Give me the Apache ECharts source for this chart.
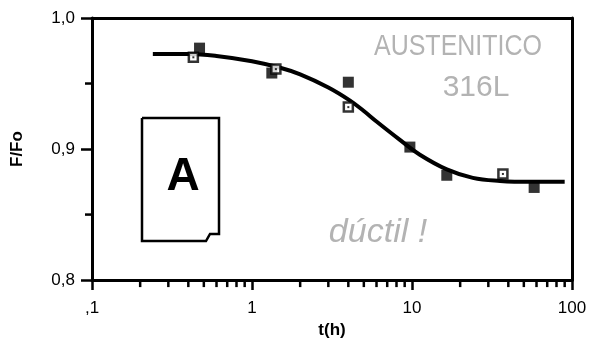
<!DOCTYPE html>
<html><head><meta charset="utf-8">
<script src="https://cdn.jsdelivr.net/npm/echarts@6/dist/echarts.min.js"></script>
<style>html,body{margin:0;padding:0;background:#fff}#c{width:590px;height:344px}</style>
</head><body><div id="c"></div>
<script>
// Data
const xTickLabels = {0.1: ',1', 1: '1', 10: '10', 100: '100'};
const xMinorTicks = [0.2,0.3,0.4,0.5,0.6,0.7,0.8,0.9,2,3,4,5,6,7,8,9,20,30,40,50,60,70,80,90];
const yMinorTicks = [0.85, 0.95];
const openT = [0.43, 1.41, 4.0, 37];
const openF = [0.970, 0.961, 0.932, 0.881];
const filledT = [0.47, 1.33, 4.0, 9.7, 16.5, 58];
const filledF = [0.977, 0.958, 0.951, 0.9015, 0.880, 0.8707];
const curveT = [0.24, 0.4, 0.6, 1.0, 1.5, 2.0, 3.0, 4.1, 5.0, 6.0, 8.4, 11.2, 16.5, 24, 35.5, 55, 90];
const curveF = [0.9725, 0.9725, 0.971, 0.967, 0.962, 0.957, 0.947, 0.937, 0.929, 0.921, 0.907, 0.8957, 0.8845, 0.878, 0.8757, 0.875, 0.875];

const zip = (a, b) => a.map((v, i) => [v, b[i]]);
const chart = echarts.init(document.getElementById('c'));
const font = 'Liberation Sans, Arial, sans-serif';
chart.setOption({
  animation: false,
  grid: {left: 92, right: 18, top: 18, bottom: 61},
  xAxis: [{
    type: 'log', logBase: 10, min: 0.1, max: 100,
    name: 't(h)', nameLocation: 'middle', nameGap: 40,
    nameTextStyle: {fontFamily: font, fontSize: 17, fontWeight: 'bold', color: '#000'},
    axisLine: {lineStyle: {color: '#000', width: 3}},
    axisTick: {show: true, length: 10, lineStyle: {color: '#000', width: 2.5}},
    axisLabel: {margin: 20, fontFamily: font, fontSize: 17, color: '#000', formatter: v => { const k = Math.round(Math.log10(v)); return xTickLabels[Math.pow(10, k).toFixed(k < 0 ? 1 : 0) * 1] || ''; }},
    splitLine: {show: false}
  }, {
    type: 'log', logBase: 10, min: 0.1, max: 100, position: 'top',
    axisLine: {show: true, lineStyle: {color: '#000', width: 3}}, axisTick: {show: false}, axisLabel: {show: false}, splitLine: {show: false}
  }],
  yAxis: [{
    type: 'value', min: 0.8, max: 1.0, interval: 0.1,
    name: 'F/Fo', nameLocation: 'middle', nameGap: 66, nameRotate: 90,
    nameTextStyle: {fontFamily: font, fontSize: 17, fontWeight: 'bold', color: '#000'},
    axisLine: {show: true, lineStyle: {color: '#000', width: 3}},
    axisTick: {show: true, length: 11, lineStyle: {color: '#000', width: 2.5}},
    axisLabel: {margin: 17, fontFamily: font, fontSize: 17, color: '#000', formatter: v => v.toFixed(1).replace('.', ',')},
    splitLine: {show: false}
  }, {
    type: 'value', min: 0.8, max: 1.0, position: 'right',
    axisLine: {show: true, lineStyle: {color: '#000', width: 3}}, axisTick: {show: false}, axisLabel: {show: false}, splitLine: {show: false}
  }],
  series: [
    {
      type: 'custom', silent: true, clip: false, data: xMinorTicks.map(t => [t, 0.8]), z: 5,
      renderItem: (params, api) => {
        const p = api.coord([api.value(0), 0.8]);
        return {type: 'line', shape: {x1: p[0], y1: p[1], x2: p[0], y2: p[1] + 7}, style: {stroke: '#000', lineWidth: 2.5}};
      }
    },
    {
      type: 'custom', silent: true, clip: false, data: yMinorTicks.map(f => [0.1, f]), z: 5,
      renderItem: (params, api) => {
        const p = api.coord([0.1, api.value(1)]);
        return {type: 'line', shape: {x1: p[0] - 7, y1: p[1], x2: p[0], y2: p[1]}, style: {stroke: '#000', lineWidth: 2.5}};
      }
    },
    {
      type: 'line', data: zip(curveT, curveF), smooth: 0.4, showSymbol: false,
      lineStyle: {color: '#000', width: 4}, z: 3
    },
    {
      type: 'scatter', data: zip(filledT, filledF), symbol: 'rect', symbolSize: 11,
      itemStyle: {color: '#000'}, z: 4
    },
    {
      type: 'scatter', data: zip(openT, openF), symbol: 'rect', symbolSize: 9,
      itemStyle: {color: '#fff', borderColor: '#000', borderWidth: 2.5}, z: 5
    },
    {
      type: 'scatter', data: zip(openT, openF), symbol: 'rect', symbolSize: 2,
      itemStyle: {color: '#000'}, z: 6
    }
  ],
  graphic: [
    {type: 'polyline', shape: {points: [[142,118],[219,118],[219,234],[210,234],[206,241],[142,241],[142,118]]},
     style: {stroke: '#000', lineWidth: 2.5, fill: 'none'}},
    {type: 'text', x: 183, y: 177, style: {text: 'A', fontFamily: font, fontSize: 46, fontWeight: 'bold', fill: '#000', align: 'center', verticalAlign: 'middle'}},
    {type: 'text', x: 458, y: 47, scaleY: 1.2, style: {text: 'AUSTENITICO', fontFamily: font, fontSize: 25, fill: '#b3b3b3', align: 'center', verticalAlign: 'middle'}},
    {type: 'text', x: 476, y: 88, style: {text: '316L', fontFamily: font, fontSize: 30, fill: '#b3b3b3', align: 'center', verticalAlign: 'middle'}},
    {type: 'text', x: 378, y: 233, style: {text: 'dúctil !', fontFamily: font, fontSize: 34, fontStyle: 'italic', fill: '#b3b3b3', align: 'center', verticalAlign: 'middle'}}
  ]
});
</script></body></html>
